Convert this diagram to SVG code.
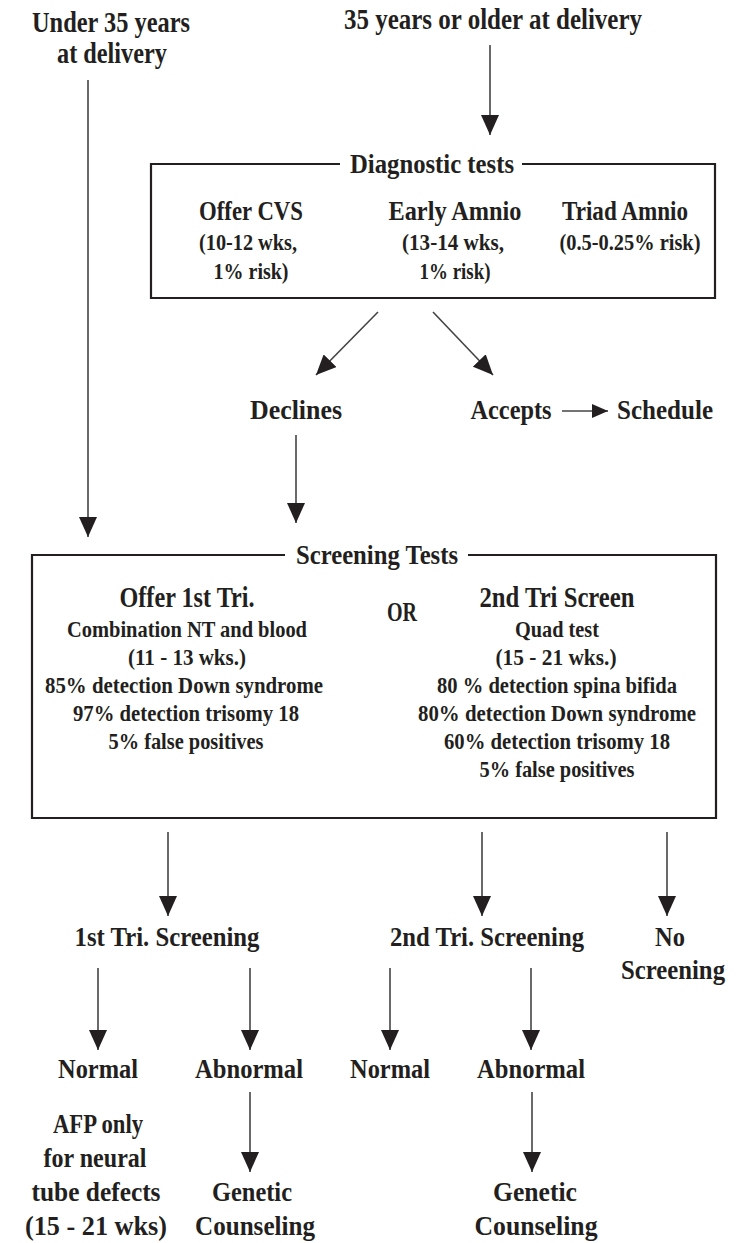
<svg xmlns="http://www.w3.org/2000/svg" width="747" height="1243" viewBox="0 0 747 1243">
<style>
text{font-family:"Liberation Serif","Times New Roman",serif;font-weight:bold;fill:#231f20;text-anchor:middle}
.h{font-size:30px}
.t{font-size:29px}
.m{font-size:28px}
.d{font-size:27px}
.s{font-size:24px}
.ln{stroke:#444;stroke-width:1.6;fill:none}
.box{stroke:#231f20;stroke-width:2.2;fill:none}
</style>
<defs>
<marker id="ah" markerUnits="userSpaceOnUse" markerWidth="20" markerHeight="18" viewBox="0 0 20 18" refX="20" refY="9" orient="auto"><path d="M0,0 L20,9 L0,18 z" fill="#231f20"/></marker>
<marker id="ahs" markerUnits="userSpaceOnUse" markerWidth="16" markerHeight="14" viewBox="0 0 16 14" refX="16" refY="7" orient="auto"><path d="M0,0 L16,7 L0,14 z" fill="#231f20"/></marker>
</defs>
<g id="connectors">
<line class="ln" x1="88" y1="80" x2="88" y2="537" marker-end="url(#ah)"/>
<line class="ln" x1="490" y1="45" x2="490" y2="135" marker-end="url(#ah)"/>
<line class="ln" x1="378" y1="312" x2="316" y2="375" marker-end="url(#ah)"/>
<line class="ln" x1="433" y1="312" x2="493" y2="375" marker-end="url(#ah)"/>
<line class="ln" x1="562" y1="411" x2="608" y2="411" marker-end="url(#ahs)"/>
<line class="ln" x1="296" y1="435" x2="296" y2="523" marker-end="url(#ah)"/>
<line class="ln" x1="168" y1="832" x2="168" y2="916" marker-end="url(#ah)"/>
<line class="ln" x1="482" y1="832" x2="482" y2="916" marker-end="url(#ah)"/>
<line class="ln" x1="667" y1="832" x2="667" y2="916" marker-end="url(#ah)"/>
<line class="ln" x1="98" y1="968" x2="98" y2="1050" marker-end="url(#ah)"/>
<line class="ln" x1="250" y1="968" x2="250" y2="1050" marker-end="url(#ah)"/>
<line class="ln" x1="390" y1="968" x2="390" y2="1050" marker-end="url(#ah)"/>
<line class="ln" x1="531" y1="968" x2="531" y2="1050" marker-end="url(#ah)"/>
<line class="ln" x1="250" y1="1092" x2="250" y2="1172" marker-end="url(#ah)"/>
<line class="ln" x1="532" y1="1092" x2="532" y2="1172" marker-end="url(#ah)"/>
</g>
<g id="under35">
<text class="h" x="111" y="32" textLength="158" lengthAdjust="spacingAndGlyphs">Under 35 years</text>
<text class="h" x="112" y="63" textLength="110" lengthAdjust="spacingAndGlyphs">at delivery</text>
</g>
<g id="over35">
<text class="h" x="493" y="29" textLength="298" lengthAdjust="spacingAndGlyphs">35 years or older at delivery</text>
</g>
<g id="diagnostic">
<path class="box" d="M340,164 H151 V298 H715 V164 H522"/>
<text class="d" x="432" y="173" textLength="164" lengthAdjust="spacingAndGlyphs">Diagnostic tests</text>
<text class="d" x="251" y="220" textLength="104" lengthAdjust="spacingAndGlyphs">Offer CVS</text>
<text class="s" x="248" y="250" textLength="98" lengthAdjust="spacingAndGlyphs">(10-12 wks,</text>
<text class="s" x="251" y="279" textLength="75" lengthAdjust="spacingAndGlyphs">1% risk)</text>
<text class="d" x="455" y="220" textLength="133" lengthAdjust="spacingAndGlyphs">Early Amnio</text>
<text class="s" x="453" y="250" textLength="102" lengthAdjust="spacingAndGlyphs">(13-14 wks,</text>
<text class="s" x="455" y="279" textLength="71" lengthAdjust="spacingAndGlyphs">1% risk)</text>
<text class="d" x="625" y="220" textLength="126" lengthAdjust="spacingAndGlyphs">Triad Amnio</text>
<text class="s" x="630" y="250" textLength="141" lengthAdjust="spacingAndGlyphs">(0.5-0.25% risk)</text>
</g>
<g id="declines"><text class="m" x="296" y="419" textLength="92" lengthAdjust="spacingAndGlyphs">Declines</text></g>
<g id="accepts"><text class="m" x="511" y="419" textLength="81" lengthAdjust="spacingAndGlyphs">Accepts</text></g>
<g id="schedule"><text class="m" x="665" y="419" textLength="96" lengthAdjust="spacingAndGlyphs">Schedule</text></g>
<g id="screening">
<path class="box" d="M285,555 H32 V818 H716 V555 H468"/>
<text class="d" x="377" y="564" textLength="162" lengthAdjust="spacingAndGlyphs">Screening Tests</text>
<text class="t" x="187" y="607" textLength="135" lengthAdjust="spacingAndGlyphs">Offer 1st Tri.</text>
<text class="s" x="187" y="637" textLength="240" lengthAdjust="spacingAndGlyphs">Combination NT and blood</text>
<text class="s" x="187" y="665" textLength="118" lengthAdjust="spacingAndGlyphs">(11 - 13 wks.)</text>
<text class="s" x="184" y="693" textLength="278" lengthAdjust="spacingAndGlyphs">85% detection Down syndrome</text>
<text class="s" x="186" y="721" textLength="226" lengthAdjust="spacingAndGlyphs">97% detection trisomy 18</text>
<text class="s" x="186" y="749" textLength="155" lengthAdjust="spacingAndGlyphs">5% false positives</text>
<text class="d" x="402" y="621" textLength="30" lengthAdjust="spacingAndGlyphs">OR</text>
<text class="t" x="557" y="607" textLength="155" lengthAdjust="spacingAndGlyphs">2nd Tri Screen</text>
<text class="s" x="557" y="637" textLength="84" lengthAdjust="spacingAndGlyphs">Quad test</text>
<text class="s" x="556" y="665" textLength="121" lengthAdjust="spacingAndGlyphs">(15  - 21 wks.)</text>
<text class="s" x="557" y="693" textLength="240" lengthAdjust="spacingAndGlyphs">80 % detection spina bifida</text>
<text class="s" x="557" y="721" textLength="278" lengthAdjust="spacingAndGlyphs">80% detection Down syndrome</text>
<text class="s" x="557" y="749" textLength="226" lengthAdjust="spacingAndGlyphs">60% detection trisomy 18</text>
<text class="s" x="557" y="777" textLength="155" lengthAdjust="spacingAndGlyphs">5% false positives</text>
</g>
<g id="first-tri"><text class="m" x="167" y="946" textLength="185" lengthAdjust="spacingAndGlyphs">1st Tri. Screening</text></g>
<g id="second-tri"><text class="m" x="487" y="946" textLength="194" lengthAdjust="spacingAndGlyphs">2nd Tri. Screening</text></g>
<g id="no-screening">
<text class="m" x="670" y="946" textLength="30" lengthAdjust="spacingAndGlyphs">No</text>
<text class="m" x="673" y="979" textLength="104" lengthAdjust="spacingAndGlyphs">Screening</text>
</g>
<g id="normal1"><text class="m" x="98" y="1078" textLength="80" lengthAdjust="spacingAndGlyphs">Normal</text></g>
<g id="abnormal1"><text class="m" x="249" y="1078" textLength="108" lengthAdjust="spacingAndGlyphs">Abnormal</text></g>
<g id="normal2"><text class="m" x="390" y="1078" textLength="80" lengthAdjust="spacingAndGlyphs">Normal</text></g>
<g id="abnormal2"><text class="m" x="531" y="1078" textLength="108" lengthAdjust="spacingAndGlyphs">Abnormal</text></g>
<g id="afp">
<text class="m" x="98" y="1133" textLength="90" lengthAdjust="spacingAndGlyphs">AFP only</text>
<text class="m" x="95" y="1167" textLength="103" lengthAdjust="spacingAndGlyphs">for neural</text>
<text class="m" x="96" y="1201" textLength="129" lengthAdjust="spacingAndGlyphs">tube defects</text>
<text class="m" x="96" y="1235" textLength="142" lengthAdjust="spacingAndGlyphs">(15  - 21 wks)</text>
</g>
<g id="counseling1">
<text class="m" x="252" y="1201" textLength="80" lengthAdjust="spacingAndGlyphs">Genetic</text>
<text class="m" x="255" y="1235" textLength="120" lengthAdjust="spacingAndGlyphs">Counseling</text>
</g>
<g id="counseling2">
<text class="m" x="535" y="1201" textLength="84" lengthAdjust="spacingAndGlyphs">Genetic</text>
<text class="m" x="536" y="1235" textLength="123" lengthAdjust="spacingAndGlyphs">Counseling</text>
</g>
</svg>
